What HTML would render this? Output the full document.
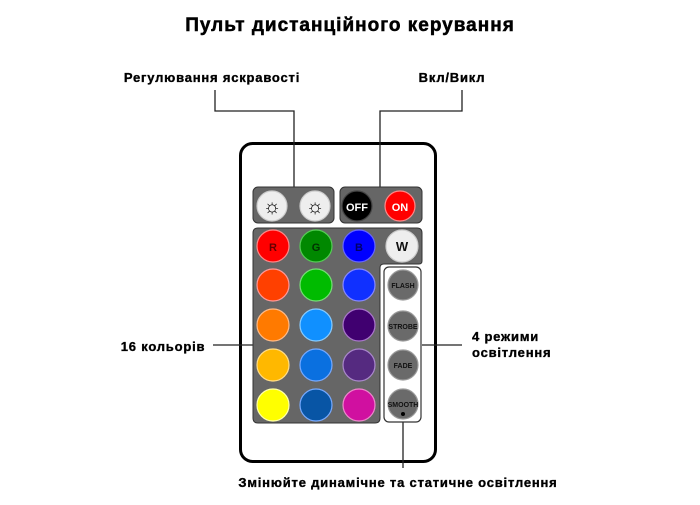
<!DOCTYPE html>
<html><head><meta charset="utf-8"><style>
body{margin:0;background:#fff}
svg text{font-family:"Liberation Sans",sans-serif;font-weight:bold}
</style></head><body>
<svg width="700" height="500" viewBox="0 0 700 500" xmlns="http://www.w3.org/2000/svg">
<text x="350" y="31" font-size="19" text-anchor="middle" letter-spacing="1" stroke="#000" stroke-width="0.5">Пульт дистанційного керування</text>
<g stroke="#000" stroke-width="0.35">
<text x="212" y="82" font-size="13" text-anchor="middle" letter-spacing="0.8">Регулювання яскравості</text>
<text x="452" y="82" font-size="13" text-anchor="middle" letter-spacing="0.8">Вкл/Викл</text>
<text x="163" y="351" font-size="13" text-anchor="middle" letter-spacing="0.8">16 кольорів</text>
<text x="472" y="341" font-size="13" letter-spacing="0.8">4 режими</text>
<text x="472" y="357" font-size="13" letter-spacing="0.8">освітлення</text>
<text x="398" y="487" font-size="13" text-anchor="middle" letter-spacing="0.8">Змінюйте динамічне та статичне освітлення</text>
</g>
<rect x="240.5" y="143.5" width="195" height="318" rx="12" fill="#fff" stroke="#000" stroke-width="3"/>
<g stroke="#222" stroke-width="1.3" fill="none">
<polyline points="215,90 215,111 294,111 294,187"/>
<polyline points="462,90 462,111 380,111 380,187"/>
<line x1="213" y1="345" x2="253" y2="345"/>
<line x1="422" y1="345" x2="462" y2="345"/>
<line x1="403" y1="414" x2="403" y2="468"/>
</g>
<rect x="253" y="187" width="81" height="36" rx="5" fill="#666" stroke="#333"/>
<rect x="340" y="187" width="82" height="36" rx="5" fill="#666" stroke="#333"/>
<path d="M258 228 H417 Q422 228 422 233 V261 Q422 264 419 264 H384 Q380 264 380 268 V418 Q380 423 375 423 H258 Q253 423 253 418 V233 Q253 228 258 228 Z" fill="#666" stroke="#333"/>
<rect x="384" y="267" width="37" height="155" rx="5" fill="#fff" stroke="#333" stroke-width="1.2"/>
<g stroke-width="1.2">
<circle cx="272" cy="206" r="15" fill="#eee" stroke="#ccc"/>
<circle cx="315" cy="206" r="15" fill="#eee" stroke="#ccc"/>
<circle cx="357" cy="206" r="15" fill="#000" stroke="#444"/>
<circle cx="400" cy="206" r="15" fill="#f00" stroke="#f88"/>
<circle cx="273" cy="246" r="16" fill="#f00" stroke="#f88"/>
<circle cx="316" cy="246" r="16" fill="#080" stroke="#5c5"/>
<circle cx="359" cy="246" r="16" fill="#00f" stroke="#66f"/>
<circle cx="402" cy="246" r="16" fill="#eee" stroke="#ccc"/>
<circle cx="273" cy="285" r="16" fill="#ff4000" stroke="#f99"/>
<circle cx="316" cy="285" r="16" fill="#0b0" stroke="#7d7"/>
<circle cx="359" cy="285" r="16" fill="#1030ff" stroke="#88f"/>
<circle cx="273" cy="325" r="16" fill="#ff7a00" stroke="#fb8"/>
<circle cx="316" cy="325" r="16" fill="#1090ff" stroke="#8cf"/>
<circle cx="359" cy="325" r="16" fill="#400070" stroke="#a7c"/>
<circle cx="273" cy="365" r="16" fill="#ffb800" stroke="#fd8"/>
<circle cx="316" cy="365" r="16" fill="#0a70e0" stroke="#7af"/>
<circle cx="359" cy="365" r="16" fill="#552a80" stroke="#a8c"/>
<circle cx="273" cy="405" r="16" fill="#ff0" stroke="#ffa"/>
<circle cx="316" cy="405" r="16" fill="#0855a5" stroke="#7af"/>
<circle cx="359" cy="405" r="16" fill="#d010a0" stroke="#e8c"/>
<circle cx="403" cy="285" r="15" fill="#6a6a6a" stroke="#999"/>
<circle cx="403" cy="326" r="15" fill="#6a6a6a" stroke="#999"/>
<circle cx="403" cy="365" r="15" fill="#6a6a6a" stroke="#999"/>
<circle cx="403" cy="404" r="15" fill="#6a6a6a" stroke="#999"/>
</g>
<circle cx="403" cy="414" r="2" fill="#000"/>
<g font-size="11" text-anchor="middle">
<text x="272" y="213" font-size="20" font-weight="normal">☼</text>
<text x="315" y="213" font-size="20" font-weight="normal">☼</text>
<text x="357" y="211" fill="#fff">OFF</text>
<text x="400" y="211" fill="#fff">ON</text>
<text x="273" y="251" fill="#600">R</text>
<text x="316" y="251" fill="#030">G</text>
<text x="359" y="251" fill="#006">B</text>
<text x="402" y="251" font-size="13" fill="#111">W</text>
</g>
<g font-size="7" text-anchor="middle" fill="#111" font-weight="normal">
<text x="403" y="288">FLASH</text>
<text x="403" y="329">STROBE</text>
<text x="403" y="368">FADE</text>
<text x="403" y="407">SMOOTH</text>
</g>
</svg>
</body></html>
